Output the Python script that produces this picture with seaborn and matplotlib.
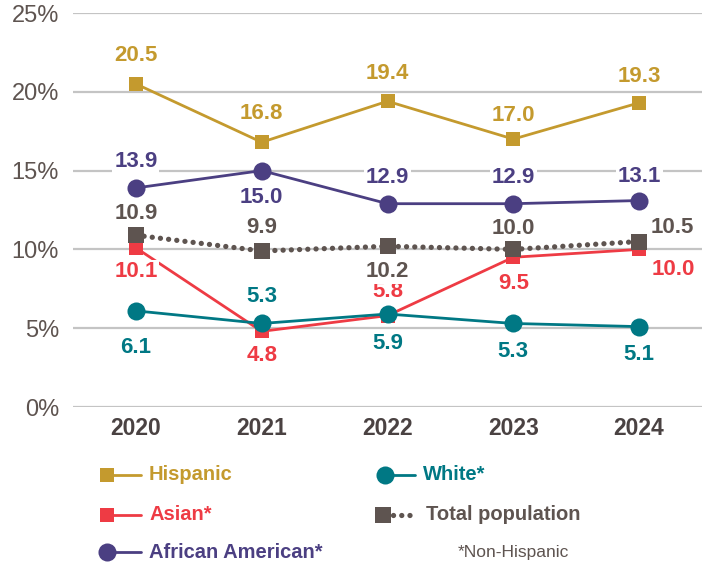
import matplotlib
matplotlib.use("Agg")
import matplotlib.pyplot as plt
from matplotlib.lines import Line2D
import seaborn as sns
import pandas as pd

years = ["2020", "2021", "2022", "2023", "2024"]
hispanic = [20.5, 16.8, 19.4, 17.0, 19.3]
asian = [10.1, 4.8, 5.8, 9.5, 10.0]
african_american = [13.9, 15.0, 12.9, 12.9, 13.1]
white = [6.1, 5.3, 5.9, 5.3, 5.1]
total = [10.9, 9.9, 10.2, 10.0, 10.5]
yticks = [0, 5, 10, 15, 20, 25]

sns.set_theme(style="white")
plt.rcParams['font.family'] = ['Liberation Sans', 'DejaVu Sans']

C_HIS = "#C49A2E"
C_ASI = "#EE3B44"
C_AA = "#4B3F82"
C_WHI = "#007884"
C_TOT = "#5E5450"
C_GRID = "#C4C4C4"
C_TICK = "#5E5450"

DOT = (0, (0.01, 1.55))

fig = plt.figure(figsize=(7.07, 5.69), dpi=100)
ax = fig.add_axes([73/707, 1-407/569, (702-73)/707, (407-13)/569])

xi = list(range(len(years)))

series = [
    ("Hispanic", hispanic, C_HIS, "s", 10, "-"),
    ("Asian*", asian, C_ASI, "s", 10, "-"),
    ("African American*", african_american, C_AA, "o", 13, "-"),
    ("White*", white, C_WHI, "o", 13, "-"),
    ("Total population", total, C_TOT, "s", 11.5, "dot"),
]

for i, (name, vals, col, mk, ms, ls) in enumerate(series):
    df = pd.DataFrame({"x": xi, "y": vals})
    if ls == "dot":
        sns.lineplot(data=df, x="x", y="y", ax=ax, color=col, lw=3.8,
                     linestyle=DOT, dash_capstyle="round",
                     marker=mk, markersize=ms, markeredgewidth=0, zorder=3 + i)
    else:
        sns.lineplot(data=df, x="x", y="y", ax=ax, color=col, lw=2,
                     marker=mk, markersize=ms, markeredgewidth=0, zorder=3 + i)

# label offsets in pixels (dx, dy), dy positive = up
offsets = {
    "Hispanic": [(0, 28), (0, 29), (0, 28), (0, 24), (0, 26)],
    "Asian*": [(0, -24), (0, -24), (0, 24), (0, -26), (34, -20)],
    "African American*": [(0, 26), (0, -27), (0, 26), (0, 26), (0, 24)],
    "White*": [(0, -37), (0, 27), (0, -29), (0, -28), (0, -28)],
    "Total population": [(0, 22), (0, 23), (0, -25), (0, 21), (33, 14)],
}
for name, vals, col, mk, ms, ls in series:
    for x, v, (dx, dy) in zip(xi, vals, offsets[name]):
        ax.annotate(f"{v:.1f}", (x, v), xytext=(dx, dy), textcoords="offset pixels",
                    ha="center", va="center", fontsize=16, fontweight="bold", color=col,
                    bbox=dict(boxstyle="square,pad=0.08", fc="white", ec="none"),
                    zorder=20)

ax.set_xlim(-0.5, 4.5)
ax.set_ylim(0, 25)
ax.set_yticks(yticks)
ax.set_yticklabels([f"{t}%" for t in yticks], fontsize=17, color=C_TICK)
ax.set_xticks(xi)
ax.set_xticklabels(years, fontsize=16.5, fontweight="bold", color="#4A4242")
ax.tick_params(axis="both", length=0)
ax.tick_params(axis="y", pad=10)
ax.tick_params(axis="x", pad=7)
for s in ax.spines.values():
    s.set_visible(False)
ax.yaxis.grid(True, color=C_GRID, lw=1.6)
ax.set_axisbelow(True)
ax.set_xlabel("")
ax.set_ylabel("")

# legend (manual, figure pixel coordinates)
W, H = 707, 569
def fx(px):
    return px / W
def fy(py):
    return 1 - py / H

legend_items = [
    ("Hispanic", C_HIS, "s", 10, "-", 107, 141, 149, 475),
    ("Asian*", C_ASI, "s", 10, "-", 107, 141, 149, 515),
    ("African American*", C_AA, "o", 13, "-", 107, 141, 149, 552),
    ("White*", C_WHI, "o", 13, "-", 385, 415, 423, 475),
    ("Total population", C_TOT, "s", 11.5, "dot", 383, 410, 426, 515),
]
for name, col, mk, ms, ls, mx, lx2, tx, ty in legend_items:
    if ls == "dot":
        fig.add_artist(Line2D([fx(mx + 10), fx(lx2)], [fy(ty), fy(ty)], color=col, lw=3.8,
                              linestyle=DOT, dash_capstyle="round",
                              transform=fig.transFigure))
    else:
        fig.add_artist(Line2D([fx(mx), fx(lx2)], [fy(ty), fy(ty)], color=col, lw=2,
                              transform=fig.transFigure))
    fig.add_artist(Line2D([fx(mx)], [fy(ty)], color=col, marker=mk, markersize=ms,
                          markeredgewidth=0, lw=0, transform=fig.transFigure))
    fig.text(fx(tx), fy(ty), name, ha="left", va="center", fontsize=14.5,
             fontweight="bold", color=col)

fig.text(fx(569), fy(552), "*Non-Hispanic", ha="right", va="center", fontsize=12.5,
         color=C_TICK)

fig.savefig("out.png", dpi=100)
